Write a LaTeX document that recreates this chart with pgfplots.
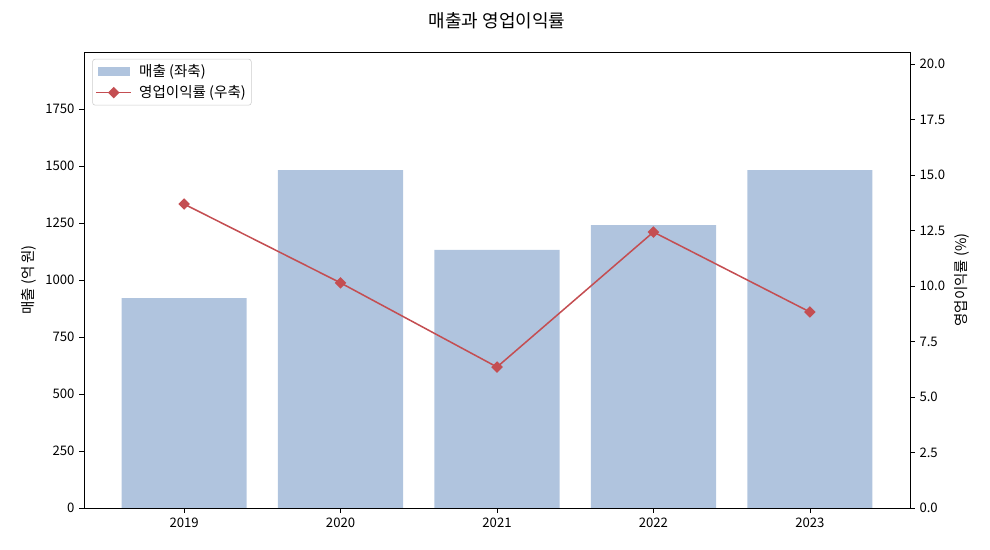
\documentclass[border=0pt]{standalone}
\usepackage{fontspec}
\setmainfont{Noto Sans CJK KR}
\usepackage{pgfplots}
\pgfplotsset{compat=1.18}
\definecolor{barc}{HTML}{B0C4DE}
\definecolor{linec}{HTML}{C44E52}
\begin{document}
\fontsize{9.5}{11}\selectfont
\begin{tikzpicture}
\useasboundingbox (-0.84in,-0.42in) rectangle (9.06in,5.08in);
\begin{axis}[
  at={(0,0)}, anchor=south west,
  scale only axis, width=8.26in, height=4.56in,
  xmin=-0.64, xmax=4.64,
  ymin=0, ymax=2000,
  xtick={0,1,2,3,4},
  xticklabels={2019,2020,2021,2022,2023},
  ytick={0,250,500,750,1000,1250,1500,1750},
  xtick pos=lower, ytick pos=left,
  tick align=outside,
  tick style={black, thin},
  major tick length=3.5pt,
  /pgf/number format/assume math mode=true,
  /pgf/number format/1000 sep={},
  ticklabel style={font=\fontsize{9.5}{11}\selectfont},
  ylabel={매출 (억 원)},
  ylabel style={font=\fontsize{10.5}{12}\selectfont},
  axis line style={black, thin},
]
\addplot[ybar, bar width=0.8, fill=barc, draw=none, bar shift=0pt] coordinates {
(0,921) (1,1482) (2,1132) (3,1241) (4,1482)
};
\end{axis}
\begin{axis}[
  at={(0,0)}, anchor=south west,
  scale only axis, width=8.26in, height=4.56in,
  xmin=-0.64, xmax=4.64,
  ymin=0, ymax=20.54,
  axis x line=none,
  axis y line*=right,
  ytick={0,2.5,5,7.5,10,12.5,15,17.5,20},
  yticklabel style={/pgf/number format/.cd, fixed, fixed zerofill, precision=1},
  /pgf/number format/assume math mode=true,
  tick align=outside,
  major tick length=3.5pt,
  tick style={black, thin},
  ticklabel style={font=\fontsize{9.5}{11}\selectfont},
  ylabel={영업이익률 (\%)},
  ylabel style={font=\fontsize{10.5}{12}\selectfont},
  axis line style={black, thin},
  title={매출과 영업이익률},
  title style={font=\fontsize{13}{15}\selectfont, yshift=7pt},
  legend style={font=\fontsize{10.5}{13}\selectfont, draw=black!20, rounded corners=2pt, fill=white, inner xsep=2pt, inner ysep=2pt, row sep=1pt, at={(0.01,0.985)}, anchor=north west,
    /tikz/column sep=3pt},
  legend cell align=left,
]
\addlegendimage{legend image code/.code={\fill[barc, sharp corners] (0.05cm,-0.1cm) rectangle (0.85cm,0.1cm);}}
\addlegendentry{매출 (좌축)}
\addplot[color=linec, line width=1.1pt, mark=square*, mark size=2.4pt, mark options={fill=linec, draw=linec, rotate=45, sharp corners},
  legend image code/.code={\draw[mark repeat=2, mark phase=2, sharp corners] plot coordinates {(0cm,0cm) (0.45cm,0cm) (0.9cm,0cm)};}] coordinates {
(0,13.69) (1,10.14) (2,6.35) (3,12.43) (4,8.83)
};
\addlegendentry{영업이익률 (우축)}
\end{axis}
\end{tikzpicture}
\end{document}
